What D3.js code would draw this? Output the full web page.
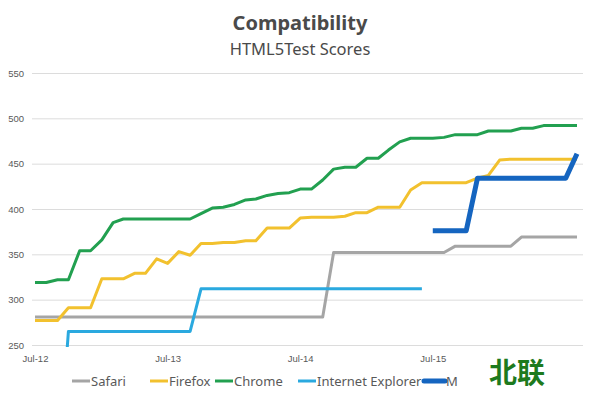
<!DOCTYPE html>
<html>
<head>
<meta charset="utf-8">
<script src="https://cdn.jsdelivr.net/npm/d3@7"></script>
<style>
  body { margin: 0; background: #fff; }
  svg { display: block; font-family: 'Noto Sans', 'Open Sans', sans-serif; }
</style>
</head>
<body>
<svg class="chart"></svg>
<script>
//Monthly scores, Jul-12 .. Aug-16
const startMonth = new Date(2012, 6, 1);
const safari = [281, 281, 281, 281, 281, 281, 281, 281, 281, 281, 281, 281, 281, 281, 281, 281, 281, 281, 281, 281, 281, 281, 281, 281, 281, 281, 281,
  352, 352, 352, 352, 352, 352, 352, 352, 352, 352, 352, 359, 359, 359, 359, 359, 359, 369, 369, 369, 369, 369, 369];
const firefox = [277, 277, 277, 291, 291, 291, 323, 323, 323, 329, 329, 345, 340, 353, 349, 362, 362, 363, 363, 365, 365, 379, 379, 379, 390, 391, 391,
  391, 392, 396, 396, 402, 402, 402, 421, 429, 429, 429, 429, 429, 434, 437, 454, 455, 455, 455, 455, 455, 455, 455];
const chrome = [319, 319, 322, 322, 354, 354, 366, 385, 389, 389, 389, 389, 389, 389, 389, 395, 401, 402, 405, 410, 411, 415, 417, 418, 422, 422, 432,
  444, 446, 446, 456, 456, 465, 474, 478, 478, 478, 479, 482, 482, 482, 486, 486, 486, 489, 489, 492, 492, 492, 492];
const ie = [null, null, 100, 265, 265, 265, 265, 265, 265, 265, 265, 265, 265, 265, 265, 312, 312, 312, 312, 312, 312, 312, 312, 312, 312, 312, 312,
  312, 312, 312, 312, 312, 312, 312, 312, 312, null, null, null, null, null, null, null, null, null, null, null, null, null, null];
const edge = [null, null, null, null, null, null, null, null, null, null, null, null, null, null, null, null, null, null, null, null, null, null, null, null, null, null, null,
  null, null, null, null, null, null, null, null, null, 376, 376, 376, 376, 434, 434, 434, 434, 434, 434, 434, 434, 434, 461];

//Legend labels as shown (last one is cut off by the watermark)
const seriesNames = ['Safari', 'Firefox', 'Chrome', 'Internet Explorer', 'M'];
const seriesValues = [safari, firefox, chrome, ie, edge];
const yTicks = [250, 300, 350, 400, 450, 500, 550];
const xTickLabels = ['Jul-12', 'Jul-13', 'Jul-14', 'Jul-15'];

//Styles per series
const colors = ['#a5a5a5', '#f2c12e', '#22a050', '#2aa9df', '#1565c0'];
const widths = [3, 3, 3, 3, 5];

const width = 600;
const height = 398;
const plot = { left: 32, right: 583, top: 73, bottom: 345 };

const svg = d3.select('svg.chart')
  .attr('width', width)
  .attr('height', height);

const monthDate = i => d3.timeMonth.offset(startMonth, i);

//Scales
const x = d3.scaleTime().domain([startMonth, monthDate(49)]).range([35, 577]);
const y = d3.scaleLinear().domain([250, 550]).range([plot.bottom, plot.top]);

//Title
svg.append('text')
  .attr('x', 300).attr('y', 30)
  .attr('text-anchor', 'middle')
  .attr('font-size', 20).attr('font-weight', 'bold')
  .attr('fill', '#4a4a4a')
  .text('Compatibility');
svg.append('text')
  .attr('x', 300).attr('y', 55)
  .attr('text-anchor', 'middle')
  .attr('font-size', 16.5)
  .attr('fill', '#4a4a4a')
  .text('HTML5Test Scores');

//Gridlines + y labels
const yAxis = svg.append('g')
  .attr('transform', 'translate(' + plot.left + ',0)')
  .call(d3.axisLeft(y).tickValues(yTicks).tickSize(-(plot.right - plot.left)).tickPadding(8));
yAxis.select('.domain').remove();
yAxis.selectAll('.tick line').attr('stroke', '#dcdcdc');
yAxis.selectAll('.tick text')
  .attr('font-size', 9.5).attr('fill', '#595959')
  .attr('font-family', 'inherit');

//x labels
const xAxis = svg.append('g')
  .attr('transform', 'translate(0,' + plot.bottom + ')')
  .call(d3.axisBottom(x)
    .tickValues(xTickLabels.map(s => d3.timeParse('%b-%y')(s)))
    .tickFormat(d3.timeFormat('%b-%y'))
    .tickSize(0).tickPadding(10));
xAxis.select('.domain').remove();
xAxis.selectAll('.tick text')
  .attr('font-size', 9.5).attr('fill', '#595959')
  .attr('font-family', 'inherit');

//Clip so low values vanish under the axis
svg.append('clipPath').attr('id', 'plot-clip')
  .append('rect')
  .attr('x', plot.left).attr('y', plot.top - 10)
  .attr('width', plot.right - plot.left + 10).attr('height', plot.bottom - plot.top + 12);

const line = d3.line()
  .defined(d => d != null)
  .x((d, i) => x(monthDate(i)))
  .y(d => y(d));

svg.append('g')
  .attr('clip-path', 'url(#plot-clip)')
  .selectAll('path')
  .data(seriesValues)
  .enter()
  .append('path')
    .attr('d', line)
    .attr('fill', 'none')
    .attr('stroke', (d, i) => colors[i])
    .attr('stroke-width', (d, i) => widths[i])
    .attr('stroke-linejoin', 'round');

//Legend
const legendX = [72, 150, 215, 298, 424];
const legend = svg.append('g')
  .selectAll('g')
  .data(seriesNames)
  .enter()
  .append('g')
    .attr('transform', (d, i) => 'translate(' + legendX[i] + ',381)');
legend.append('line')
  .attr('x1', 0).attr('x2', (d, i) => i == 4 ? 21 : 18)
  .attr('stroke', (d, i) => colors[i])
  .attr('stroke-width', (d, i) => widths[i])
  .attr('stroke-linecap', (d, i) => i == 4 ? 'round' : 'butt');
legend.append('text')
  .attr('x', (d, i) => i == 4 ? 22 : 19)
  .attr('dy', '0.35em')
  .attr('font-size', 13).attr('fill', '#595959')
  .text(d => d);

//Watermark
svg.append('text')
  .attr('x', 517).attr('y', 383)
  .attr('text-anchor', 'middle')
  .attr('font-family', 'Noto Sans CJK SC')
  .attr('font-size', 28).attr('font-weight', 'bold')
  .attr('fill', '#1d7a1d')
  .text('北联');
</script>
</body>
</html>
